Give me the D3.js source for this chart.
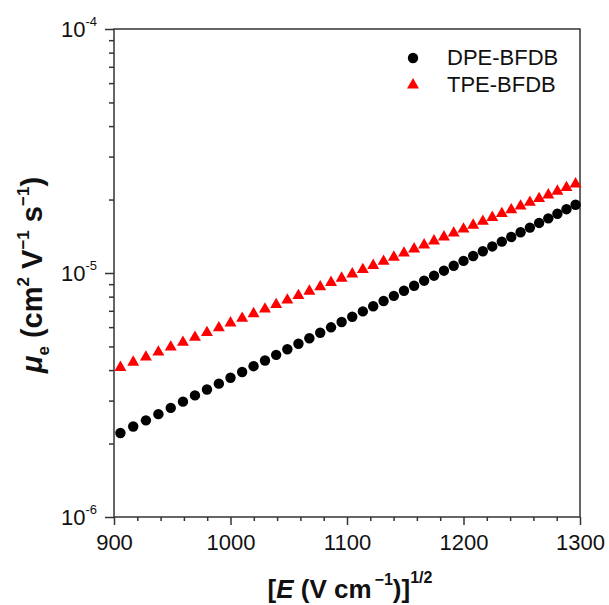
<!DOCTYPE html>
<html>
<head>
<meta charset="utf-8">
<script src="https://cdn.jsdelivr.net/npm/d3@7"></script>
<style>
  body { margin: 0; background: #fff; }
  text { font-family: Arial, "Liberation Sans", sans-serif; fill: #111; }
</style>
</head>
<body>
<div id="chart"></div>
<script>
// sqrt of field, [E (V cm^-1)]^1/2
const fieldSqrt = [905.5, 916.5, 927.4, 938.1, 948.7, 959.2, 969.5, 979.8, 990.0, 1000.0,
  1010.0, 1019.8, 1029.6, 1039.2, 1048.8, 1058.3, 1067.7, 1077.0, 1086.3, 1095.4,
  1104.5, 1113.6, 1122.5, 1131.4, 1140.2, 1148.9, 1157.6, 1166.2, 1174.7, 1183.2,
  1191.6, 1200.0, 1208.3, 1216.6, 1224.7, 1232.9, 1241.0, 1249.0, 1257.0, 1264.9,
  1272.8, 1280.6, 1288.4, 1296.2];

// electron mobility, cm2 V-1 s-1
const dpeMobility = [2.21e-6, 2.35e-6, 2.49e-6, 2.64e-6, 2.80e-6, 2.97e-6, 3.15e-6, 3.33e-6, 3.52e-6, 3.72e-6,
  3.93e-6, 4.15e-6, 4.38e-6, 4.62e-6, 4.87e-6, 5.13e-6, 5.40e-6, 5.69e-6, 5.99e-6, 6.30e-6,
  6.62e-6, 6.96e-6, 7.31e-6, 7.68e-6, 8.06e-6, 8.46e-6, 8.87e-6, 9.30e-6, 9.75e-6, 1.022e-5,
  1.071e-5, 1.121e-5, 1.174e-5, 1.228e-5, 1.285e-5, 1.344e-5, 1.405e-5, 1.469e-5, 1.535e-5, 1.604e-5,
  1.675e-5, 1.749e-5, 1.826e-5, 1.905e-5];
const tpeMobility = [4.10e-6, 4.31e-6, 4.52e-6, 4.74e-6, 4.97e-6, 5.20e-6, 5.45e-6, 5.70e-6, 5.96e-6, 6.24e-6,
  6.52e-6, 6.81e-6, 7.11e-6, 7.42e-6, 7.74e-6, 8.08e-6, 8.42e-6, 8.77e-6, 9.14e-6, 9.52e-6,
  9.91e-6, 1.032e-5, 1.073e-5, 1.116e-5, 1.161e-5, 1.206e-5, 1.254e-5, 1.303e-5, 1.353e-5, 1.405e-5,
  1.458e-5, 1.513e-5, 1.570e-5, 1.628e-5, 1.688e-5, 1.751e-5, 1.815e-5, 1.880e-5, 1.948e-5, 2.018e-5,
  2.089e-5, 2.163e-5, 2.239e-5, 2.317e-5];

const seriesNames = ["DPE-BFDB", "TPE-BFDB"];
const xTicks = [900, 1000, 1100, 1200, 1300];
const yTicks = [1e-6, 1e-5, 1e-4];
const yExponents = ["-6", "-5", "-4"];

const width = 609, height = 605;
const margin = { left: 114, right: 29, top: 29, bottom: 88 };
const axisColor = "#333";

const svg = d3.select("#chart")
  .append("svg")
  .attr("width", width)
  .attr("height", height);

const x = d3.scaleLinear()
  .domain([900, 1300])
  .range([margin.left, width - margin.right]);

const y = d3.scaleLog()
  .domain([1e-6, 1e-4])
  .range([height - margin.bottom, margin.top]);

// minor ticks
const xMinor = d3.range(900, 1301, 20).filter(v => v % 100 !== 0);
const yMinor = [];
[1e-6, 1e-5].forEach(dec => { for (let k = 2; k <= 9; k++) yMinor.push(k * dec); });

const bottomY = height - margin.bottom;

// bottom axis
const gx = svg.append("g").attr("transform", `translate(0,${bottomY})`);
gx.call(d3.axisBottom(x).tickValues(xTicks).tickSize(8).tickFormat(d3.format("d")));
gx.append("g").call(d3.axisBottom(x).tickValues(xMinor).tickSize(4).tickFormat(""));
gx.selectAll(".domain").remove();
gx.selectAll("line").attr("stroke", axisColor).attr("stroke-width", 1.5);
gx.selectAll("text")
  .attr("font-size", 22)
  .attr("dy", null)
  .attr("y", 33)
  .style("fill", "#111");

// left axis
const gy = svg.append("g").attr("transform", `translate(${margin.left},0)`);
gy.call(d3.axisLeft(y).tickValues(yTicks).tickSize(9).tickFormat(""));
gy.append("g").call(d3.axisLeft(y).tickValues(yMinor).tickSize(5).tickFormat(""));
gy.selectAll(".domain").remove();
gy.selectAll("line").attr("stroke", axisColor).attr("stroke-width", 1.5);

const yLab = gy.selectAll(".ylab")
  .data(yTicks)
  .enter()
  .append("text")
  .attr("class", "ylab")
  .attr("x", -17)
  .attr("y", d => y(d) + 8)
  .attr("text-anchor", "end");
yLab.append("tspan").attr("font-size", 22).text("10");
yLab.append("tspan").attr("font-size", 13).attr("dy", -11).text((d, i) => yExponents[i]);

// frame
svg.append("rect")
  .attr("x", margin.left)
  .attr("y", margin.top)
  .attr("width", width - margin.left - margin.right)
  .attr("height", height - margin.top - margin.bottom)
  .attr("fill", "none")
  .attr("stroke", axisColor)
  .attr("stroke-width", 1.5);

// data points
const dpeData = fieldSqrt.map((v, i) => [v, dpeMobility[i]]);
const tpeData = fieldSqrt.map((v, i) => [v, tpeMobility[i]]);

svg.append("g").selectAll("circle")
  .data(dpeData)
  .enter()
  .append("circle")
  .attr("cx", d => x(d[0]))
  .attr("cy", d => y(d[1]))
  .attr("r", 5.2)
  .attr("fill", "black");

const tri = d3.symbol().type(d3.symbolTriangle).size(62);
svg.append("g").selectAll("path")
  .data(tpeData)
  .enter()
  .append("path")
  .attr("d", tri)
  .attr("transform", d => `translate(${x(d[0])},${y(d[1])})`)
  .attr("fill", "red");

// legend
const legend = svg.append("g").attr("transform", "translate(413,58)");
legend.append("circle").attr("cx", 0).attr("cy", 0).attr("r", 5.2).attr("fill", "black");
legend.append("path").attr("d", tri).attr("transform", "translate(0,27)").attr("fill", "red");
legend.selectAll("text")
  .data(seriesNames)
  .enter()
  .append("text")
  .attr("x", 34)
  .attr("y", (d, i) => 7 + i * 27)
  .attr("font-size", 22)
  .text(d => d);

// x axis title
const xTitle = svg.append("text")
  .attr("x", 350)
  .attr("y", 598)
  .attr("text-anchor", "middle")
  .attr("font-weight", "bold")
  .attr("font-size", 26);
xTitle.append("tspan").text("[");
xTitle.append("tspan").attr("font-style", "italic").text("E");
xTitle.append("tspan").text(" (V cm");
xTitle.append("tspan").attr("font-size", 16).attr("dx", 3).attr("dy", -13).text("−1");
xTitle.append("tspan").attr("dy", 13).text(")]");
xTitle.append("tspan").attr("font-size", 16).attr("dy", -15).text("1/2");

// y axis title
const yTitle = svg.append("text")
  .attr("transform", `translate(42,${(margin.top + bottomY) / 2 + 2}) rotate(-90)`)
  .attr("text-anchor", "middle")
  .attr("font-weight", "bold")
  .attr("font-size", 29);
yTitle.append("tspan").attr("font-style", "italic").text("μ");
yTitle.append("tspan").attr("font-size", 17).attr("dy", 7).text("e");
yTitle.append("tspan").attr("dy", -7).text(" (cm");
yTitle.append("tspan").attr("font-size", 17).attr("dy", -13).text("2");
yTitle.append("tspan").attr("dy", 13).text(" V");
yTitle.append("tspan").attr("font-size", 17).attr("dy", -13).text("−1");
yTitle.append("tspan").attr("dy", 13).text(" s");
yTitle.append("tspan").attr("font-size", 17).attr("dy", -13).text("−1");
yTitle.append("tspan").attr("dy", 13).text(")");
</script>
</body>
</html>
